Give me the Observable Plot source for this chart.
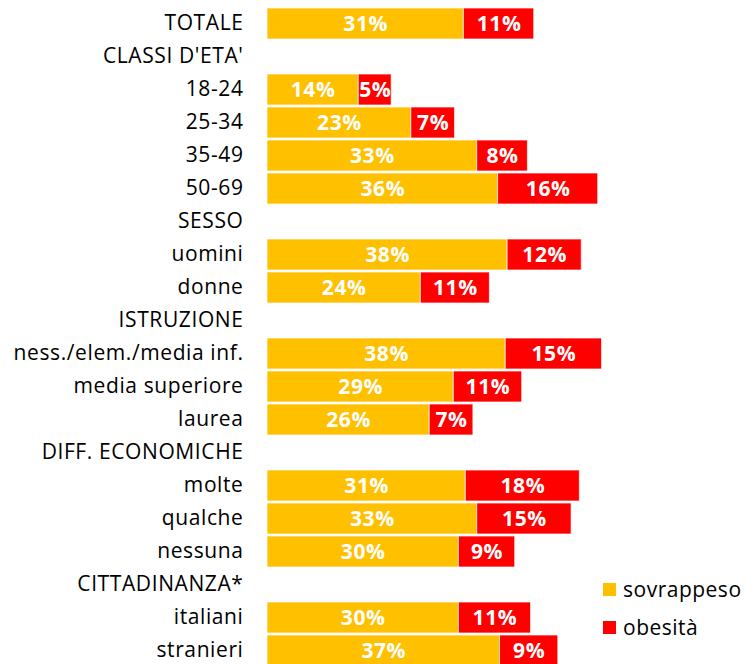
<!DOCTYPE html>
<html>
<head>
<meta charset="utf-8">
<script src="https://cdn.jsdelivr.net/npm/d3@7"></script>
<script src="https://cdn.jsdelivr.net/npm/@observablehq/plot@0.6"></script>
<style>
  html, body { margin: 0; padding: 0; background: #fff; }
  #wrap { position: relative; width: 756px; height: 664px; overflow: hidden; font-family: "Open Sans", "Noto Sans", sans-serif; }
  .leg { position: absolute; left: 603px; display: flex; align-items: center; font-size: 21px; letter-spacing: 0.5px; color: #000; }
  .leg span.sw { display: inline-block; width: 13px; height: 13px; margin-right: 7px; }
  svg text { letter-spacing: 0.6px; }
</style>
</head>
<body>
<div id="wrap"></div>
<script>
const categories = ["TOTALE","CLASSI D'ETA'","18-24","25-34","35-49","50-69","SESSO","uomini","donne","ISTRUZIONE","ness./elem./media inf.","media superiore","laurea","DIFF. ECONOMICHE","molte","qualche","nessuna","CITTADINANZA*","italiani","stranieri"];
const sovrappeso = [31.0,null,14.4,22.7,33.1,36.4,null,37.9,24.2,null,37.6,29.4,25.6,null,31.3,33.1,30.2,null,30.2,36.7];
const obesita    = [11.1,null,5.2,6.9,8.0,15.8,null,11.7,10.9,null,15.2,10.8,6.9,null,18.0,14.9,8.9,null,11.4,9.2];
const seriesNames = ["sovrappeso","obesità"];
const seriesColors = ["#FFC000","#FF0000"];

const data = [];
categories.forEach((c, i) => {
  if (sovrappeso[i] != null) data.push({cat: c, series: seriesNames[0], value: sovrappeso[i]});
  if (obesita[i] != null) data.push({cat: c, series: seriesNames[1], value: obesita[i]});
});

const chart = Plot.plot({
  width: 756,
  height: 664,
  marginLeft: 267,
  marginRight: 0,
  marginTop: 0,
  marginBottom: 0,
  style: {fontFamily: "'Open Sans', 'Noto Sans', sans-serif", background: "#fff"},
  x: {domain: [0, 76], range: [267, 748.5], axis: null},
  y: {domain: categories, range: [5, 669], paddingInner: 0.065, paddingOuter: 0.03, label: null},
  color: {domain: seriesNames, range: seriesColors},
  marks: [
    Plot.barX(data, Plot.stackX({x: "value", y: "cat", z: "series", fill: "series", stroke: "#fff", strokeOpacity: 0.7, strokeWidth: 1})),
    Plot.text(data, Plot.stackX({x: "value", y: "cat", z: "series", text: d => Math.round(d.value) + "%", fill: "#fff", fontWeight: "bold", fontSize: 21})),
    Plot.axisY({tickSize: 0, tickPadding: 24, fontSize: 21, fill: "#000", dy: -1, label: null})
  ]
});

const wrap = document.getElementById("wrap");
wrap.appendChild(chart);
const legY = [589, 627];
seriesNames.forEach((s, i) => {
  const d = document.createElement("div");
  d.className = "leg";
  d.style.top = (legY[i] - 14) + "px";
  d.style.height = "28px";
  d.innerHTML = `<span class="sw" style="background:${seriesColors[i]}"></span><span>${s}</span>`;
  wrap.appendChild(d);
});
</script>
</body>
</html>
